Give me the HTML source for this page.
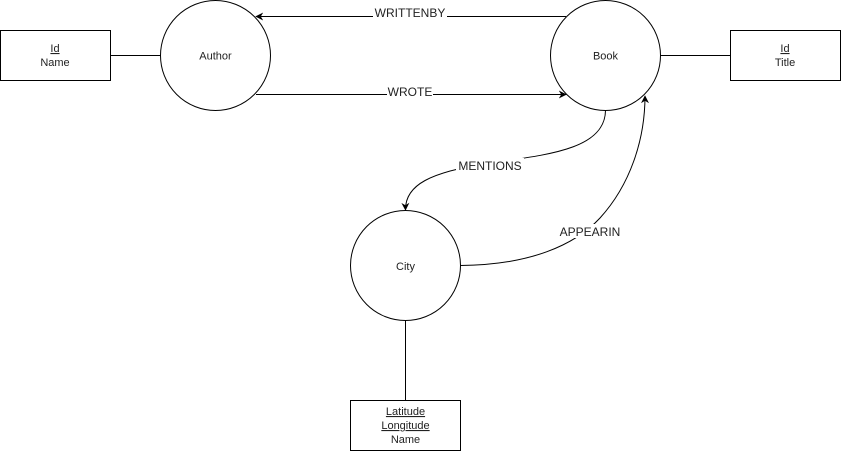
<!DOCTYPE html>
<html><head><meta charset="utf-8"><style>
html,body{margin:0;padding:0;background:#fff;}
svg{display:block;}
text{font-family:"Liberation Sans",Arial,sans-serif;font-size:11px;fill:#222;}
text.e{font-size:12px;}
</style></head><body>
<svg width="841" height="451" viewBox="0 0 841 451" xmlns="http://www.w3.org/2000/svg">
<defs>
<marker id="a" viewBox="0 0 10 10" refX="9" refY="5" markerWidth="8" markerHeight="8" orient="auto" markerUnits="userSpaceOnUse">
<path d="M0,0 L10,5 L0,10 L3,5 z" fill="#000"/>
</marker>
</defs>
<g fill="none" stroke="#000" stroke-width="1">
<rect x="0.5" y="30.5" width="110" height="50"/>
<rect x="730.5" y="30.5" width="110" height="50"/>
<rect x="350.5" y="400.5" width="110" height="50"/>
<circle cx="215.5" cy="55.5" r="55"/>
<circle cx="605.5" cy="55.5" r="55"/>
<circle cx="405.5" cy="265.5" r="55"/>
<line x1="110" y1="55.5" x2="160.5" y2="55.5"/>
<line x1="660.5" y1="55.5" x2="730" y2="55.5"/>
<line x1="405.5" y1="320.5" x2="405.5" y2="400"/>
<line x1="566" y1="16.5" x2="256" y2="16.5" marker-end="url(#a)"/>
<line x1="256" y1="94.5" x2="566" y2="94.5" marker-end="url(#a)"/>
<path d="M605.5,110.5 C605,150 545,155 490,163 C430,172 405,185 405.5,210" marker-end="url(#a)"/>
<path d="M460.5,265.5 C530,265 575,245 600,218 C630,185 645,140 645,96" marker-end="url(#a)"/>
</g>
<g text-anchor="middle">
<rect x="373" y="6" width="74" height="14" fill="#fff"/>
<text class="e" x="410" y="17">WRITTENBY</text>
<rect x="387" y="85" width="46" height="14" fill="#fff"/>
<text class="e" x="410" y="96">WROTE</text>
<rect x="456" y="158" width="68" height="14" fill="#fff"/>
<text class="e" x="490" y="170">MENTIONS</text>
<rect x="557" y="224" width="66" height="14" fill="#fff"/>
<text class="e" x="590" y="236">APPEARIN</text>
<text x="215.5" y="59.5">Author</text>
<text x="605.5" y="59.5">Book</text>
<text x="405.5" y="270">City</text>
<text x="55" y="52" text-decoration="underline">Id</text>
<text x="55" y="66">Name</text>
<text x="785" y="52" text-decoration="underline">Id</text>
<text x="785" y="66">Title</text>
<text x="405.5" y="415" text-decoration="underline">Latitude</text>
<text x="405.5" y="429" text-decoration="underline">Longitude</text>
<text x="405.5" y="443">Name</text>
</g>
</svg>
</body></html>
